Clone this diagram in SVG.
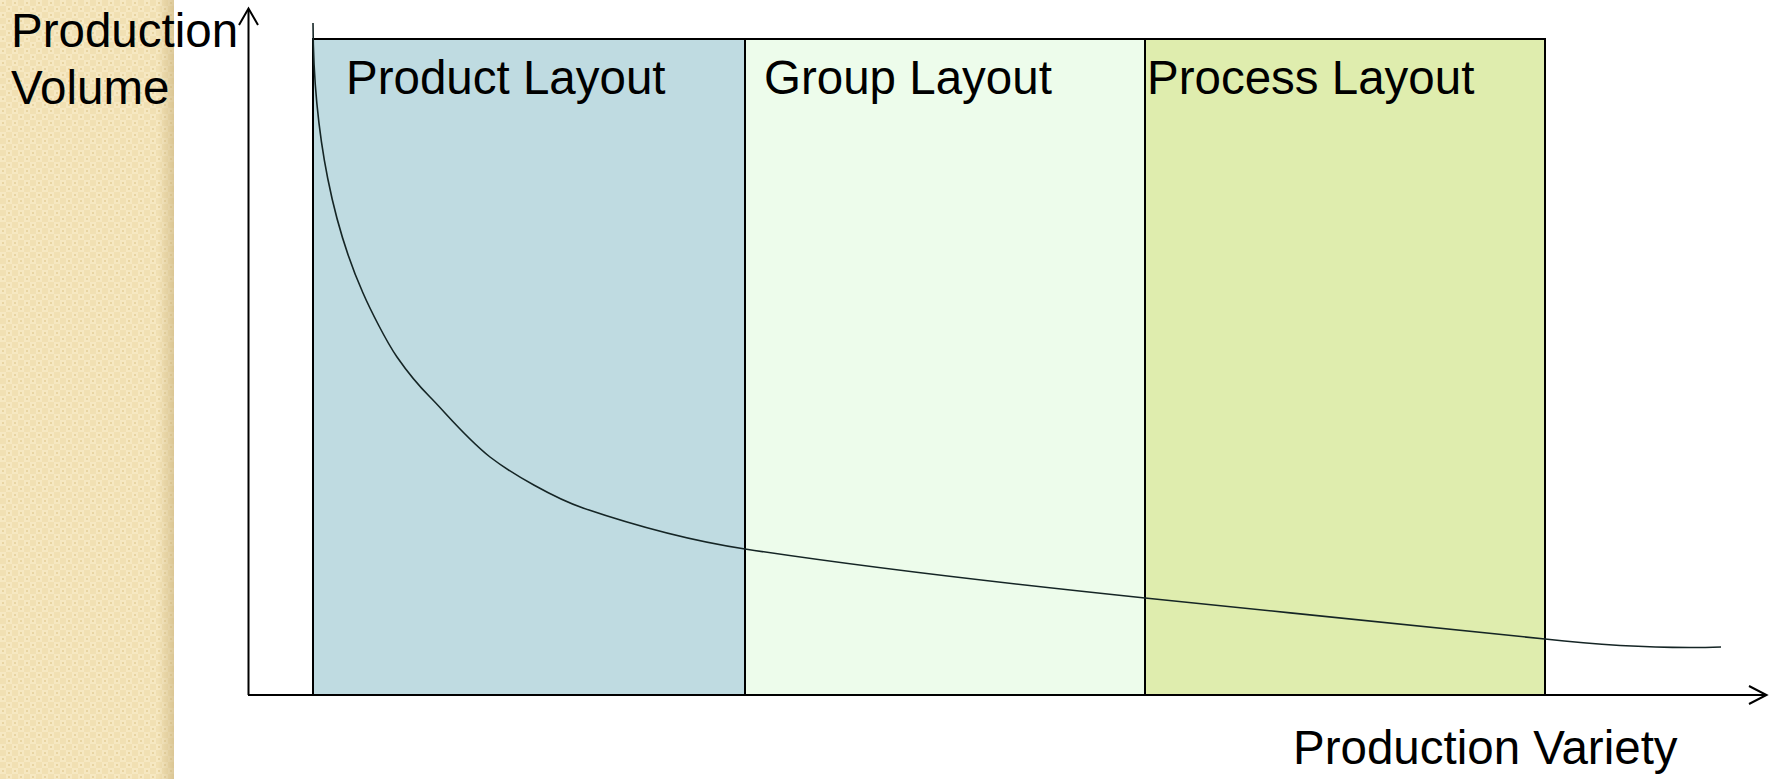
<svg xmlns="http://www.w3.org/2000/svg" width="1775" height="779" viewBox="0 0 1775 779">
  <defs>
    <pattern id="weave" x="0" y="0" width="12" height="12" patternUnits="userSpaceOnUse">
      <rect width="12" height="12" fill="#F1E0B3"/>
      <rect x="0" y="0" width="6" height="6" fill="#F6E8C2"/>
      <rect x="6" y="6" width="6" height="6" fill="#F6E8C2"/>
      <rect x="2" y="2" width="2" height="2" fill="#E8D4A2"/>
      <rect x="8" y="8" width="2" height="2" fill="#E8D4A2"/>
    </pattern>
    <linearGradient id="edgeShade" x1="0" y1="0" x2="1" y2="0">
      <stop offset="0" stop-color="#C8B07A" stop-opacity="0"/>
      <stop offset="1" stop-color="#C8B07A" stop-opacity="0.55"/>
    </linearGradient>
  </defs>
  <style>
    .label { font-family: "Liberation Sans", Arial, sans-serif; font-size: 47.5px; fill: #000; }
    .zone { stroke: #000; stroke-width: 2; }
    .axis { stroke: #000; stroke-width: 2; fill: none; }
    .curve { stroke: #152525; stroke-width: 1.6; fill: none; }
  </style>

  <!-- textured side band -->
  <rect x="0" y="0" width="174" height="779" fill="url(#weave)"/>
  <rect x="158" y="0" width="16" height="779" fill="url(#edgeShade)"/>

  <!-- layout zones -->
  <g id="product-layout">
    <rect class="zone" x="313" y="39" width="432" height="656" fill="#BFDBE1"/>
    <text class="label" x="346" y="94">Product Layout</text>
  </g>
  <g id="group-layout">
    <rect class="zone" x="745" y="39" width="400" height="656" fill="#EDFCEB"/>
    <text class="label" x="764" y="94">Group Layout</text>
  </g>
  <g id="process-layout">
    <rect class="zone" x="1145" y="39" width="400" height="656" fill="#DFEDAE"/>
    <text class="label" x="1147" y="94">Process Layout</text>
  </g>

  <!-- axes and volume/variety curve -->
  <g id="connectors">
    <path class="axis" d="M248.5,695 L248.5,9"/>
    <path class="axis" d="M239,25 L248.5,8.5 L258,25"/>
    <path class="axis" d="M248,695 L1766,695"/>
    <path class="axis" d="M1749,686 L1766.5,695 L1749,704"/>
    <path class="curve" d="M313,23 C313.5,140 335,230 363,293 C370,309 386,341 397,357 C406,370 419,386 430,397 C445,412 465,437 490,457 C512,474 555,498.5 583,508 C630,524 690,540.6 745,549 C870,568 1010,584 1145,598 C1280,612 1480,632 1545,639 C1600,645 1660,649 1721,647"/>
  </g>

  <!-- axis titles -->
  <g id="axis-titles">
    <text class="label" x="11" y="47">Production</text>
    <text class="label" x="11" y="104">Volume</text>
    <text class="label" x="1293" y="764">Production Variety</text>
  </g>
</svg>
